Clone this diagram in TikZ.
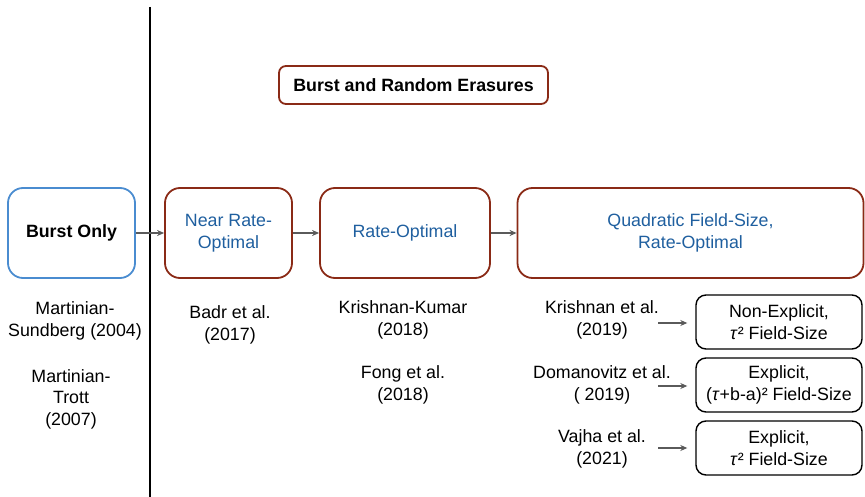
\documentclass[tikz,border=0pt]{standalone}
\usepackage{fontspec}
\setmainfont{Liberation Sans}
\usetikzlibrary{arrows.meta}
\definecolor{berry}{HTML}{8A2A16}
\definecolor{cornflower}{HTML}{4A8CD0}
\definecolor{labelblue}{HTML}{1F5F9F}
\definecolor{arrowgray}{HTML}{5A5A5A}
\begin{document}
\begin{tikzpicture}[x=1pt,y=-1pt,
  every node/.style={font=\fontsize{17.8}{21.5}\selectfont, align=center, inner sep=0pt},
  classbox/.style={draw=berry, line width=1.8pt, rounded corners=15pt, text=labelblue},
  burstbox/.style={draw=cornflower, line width=1.8pt, rounded corners=15pt, font=\fontsize{17.8}{21.5}\selectfont\bfseries},
  headbox/.style={draw=berry, line width=1.8pt, rounded corners=7pt, font=\fontsize{17.8}{21.5}\selectfont\bfseries},
  codebox/.style={draw=black, line width=1.4pt, rounded corners=10pt, minimum width=166pt, minimum height=54pt},
  cite/.style={},
  flow/.style={draw=arrowgray, line width=1.4pt, -{Stealth[length=7pt,width=6pt]}},
]
\useasboundingbox (0,0) rectangle (865,497);

% divider between burst-only and burst-and-random codes
\coordinate (divtop) at (149.5,7);
\coordinate (divbot) at (149.5,497);
\draw[line width=2pt] (divtop) -- (divbot);

% heading
\node[headbox, minimum width=269pt, minimum height=38pt] (head) at (413.5,85) {Burst and Random Erasures};

% code classes
\node[burstbox, minimum width=127pt, minimum height=90pt] (burst) at (71.5,233) {Burst Only};
\node[classbox, minimum width=127pt, minimum height=90pt] (near) at (228.5,233) {Near Rate-\\Optimal};
\node[classbox, minimum width=170pt, minimum height=90pt] (rate) at (405,233) {Rate-Optimal};
\node[classbox, minimum width=346pt, minimum height=90pt] (quad) at (690.5,233) {Quadratic Field-Size,\\Rate-Optimal};

\draw[flow] (burst) -- (near);
\draw[flow] (near) -- (rate);
\draw[flow] (rate) -- (quad);

% references
\node[cite] (ms) at (75,321) {Martinian-\\Sundberg (2004)};
\node[cite] (mt) at (71,399) {Martinian-\\Trott\\(2007)};
\node[cite] (badr) at (230,325) {Badr et al.\\(2017)};
\node[cite] (kk) at (403,320) {Krishnan-Kumar\\(2018)};
\node[cite] (fong) at (403,385) {Fong et al.\\(2018)};
\node[cite] (kr) at (602,320) {Krishnan et al.\\(2019)};
\node[cite] (dom) at (602,385) {Domanovitz et al.\\( 2019)};
\node[cite] (vaj) at (602,449) {Vajha et al.\\(2021)};

% quadratic field-size constructions
\node[codebox] (nonexp) at (779,322) {Non-Explicit,\\\textit{τ}² Field-Size};
\node[codebox] (expa) at (779,385) {Explicit,\\(\textit{τ}+b-a)² Field-Size};
\node[codebox] (expb) at (779,448) {Explicit,\\\textit{τ}² Field-Size};

\coordinate (a1) at (658,323);
\coordinate (a2) at (658,386);
\coordinate (a3) at (658,448);
\draw[flow, line width=1.2pt, shorten >=8pt] (a1) -- (nonexp.west |- a1);
\draw[flow, line width=1.2pt, shorten >=8pt] (a2) -- (expa.west |- a2);
\draw[flow, line width=1.2pt, shorten >=8pt] (a3) -- (expb.west |- a3);
\end{tikzpicture}
\end{document}
